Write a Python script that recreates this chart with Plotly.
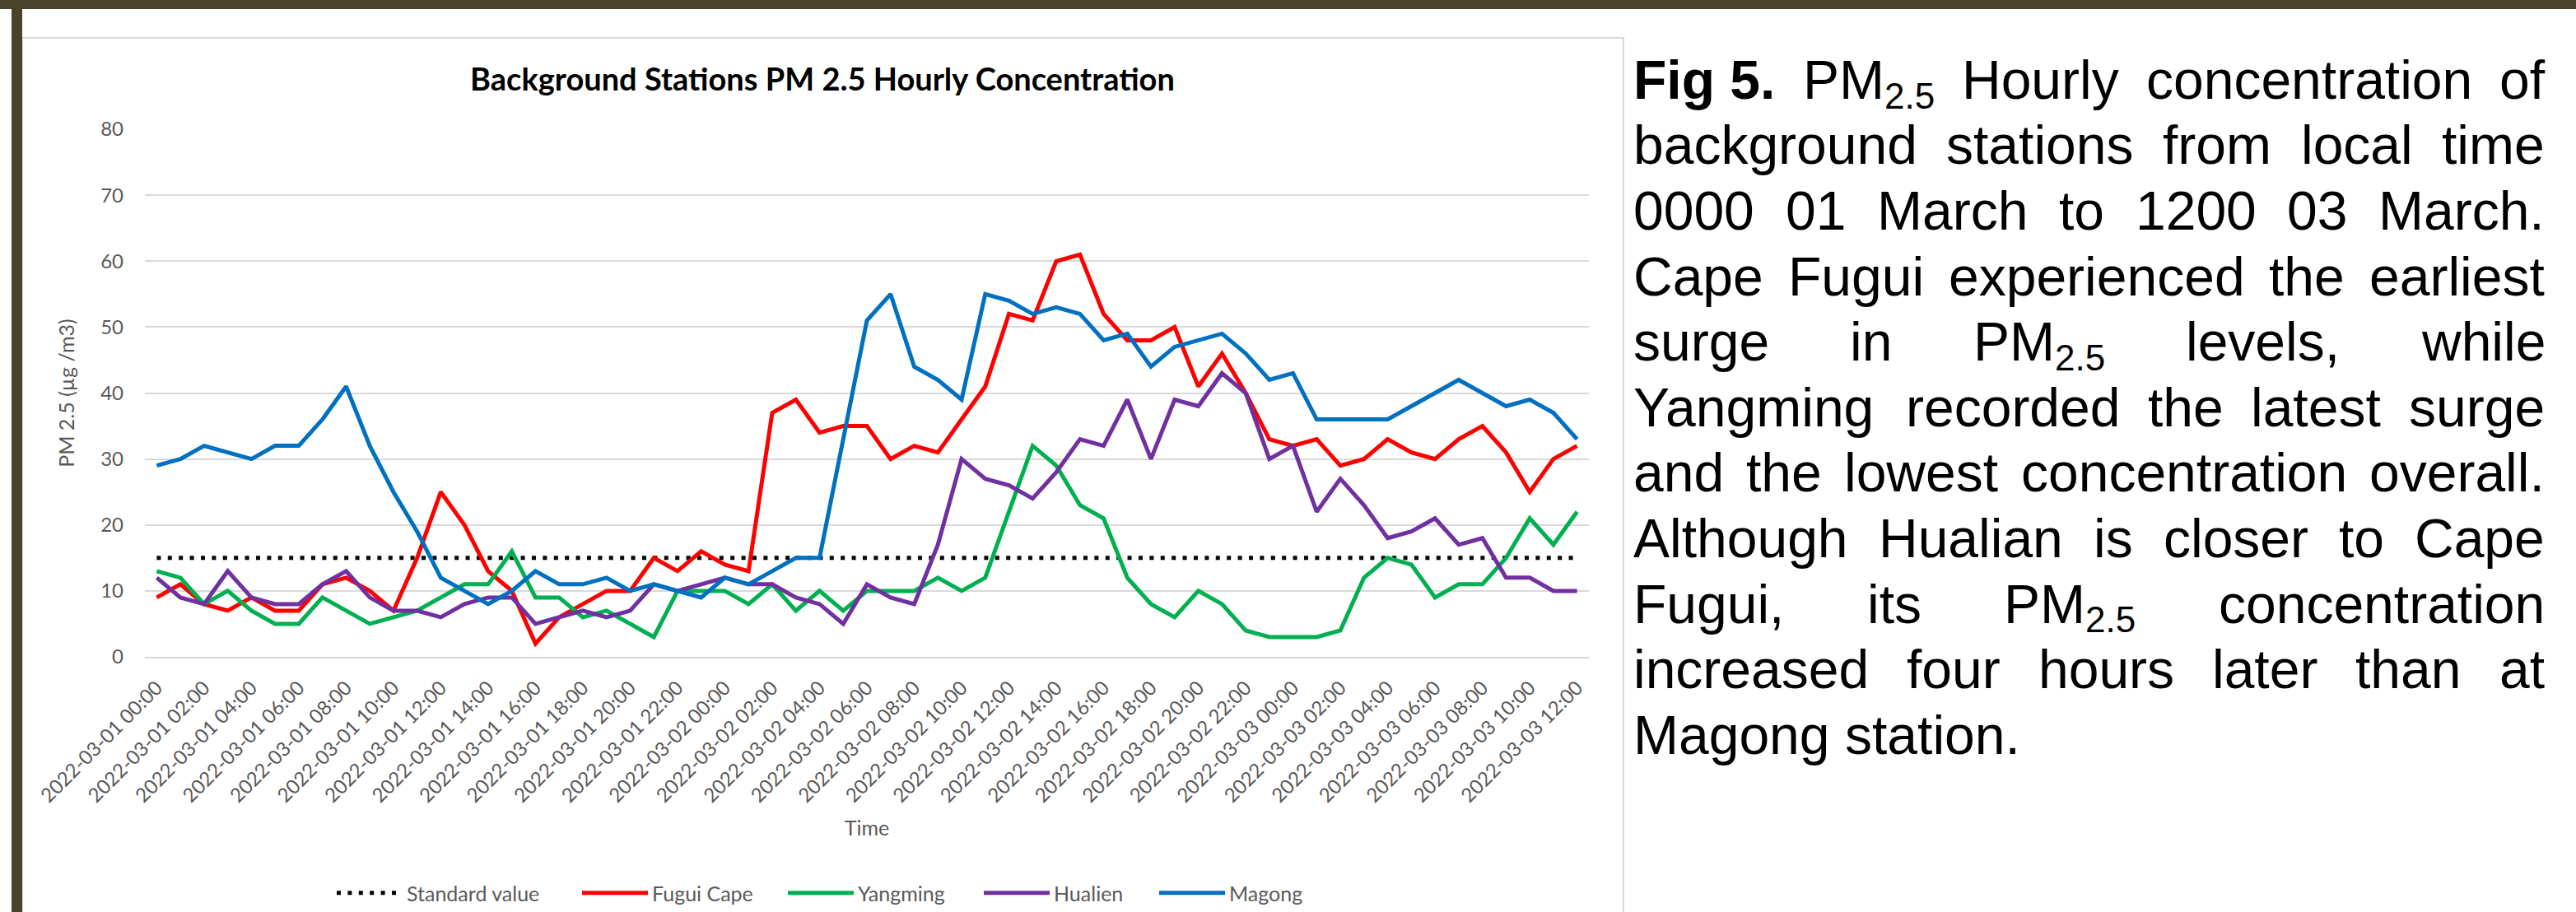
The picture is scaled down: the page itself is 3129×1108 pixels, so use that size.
import plotly.graph_objects as go

# ---------------- data ----------------
times = [f"2022-03-{d:02d} {h:02d}:00" for d in (1, 2, 3) for h in range(24)][:61]
tick_labels = times[::2]

standard_value = 15
standard = [standard_value] * len(times)

fugui = [9, 11, 8, 7, 9, 7, 7, 11, 12, 10, 7, 15, 25, 20, 13, 10, 2, 6, 8, 10,
         10, 15, 13, 16, 14, 13, 37, 39, 34, 35, 35, 30, 32, 31, 36, 41, 52, 51, 60, 61,
         52, 48, 48, 50, 41, 46, 40, 33, 32, 33, 29, 30, 33, 31, 30, 33, 35, 31, 25, 30, 32]
yangming = [13, 12, 8, 10, 7, 5, 5, 9, 7, 5, 6, 7, 9, 11, 11, 16, 9, 9, 6, 7,
            5, 3, 10, 10, 10, 8, 11, 7, 10, 7, 10, 10, 10, 12, 10, 12, 22, 32, 29, 23,
            21, 12, 8, 6, 10, 8, 4, 3, 3, 3, 4, 12, 15, 14, 9, 11, 11, 15, 21, 17, 22]
hualien = [12, 9, 8, 13, 9, 8, 8, 11, 13, 9, 7, 7, 6, 8, 9, 9, 5, 6, 7, 6,
           7, 11, 10, 11, 12, 11, 11, 9, 8, 5, 11, 9, 8, 17, 30, 27, 26, 24, 28, 33,
           32, 39, 30, 39, 38, 43, 40, 30, 32, 22, 27, 23, 18, 19, 21, 17, 18, 12, 12, 10, 10]
magong = [29, 30, 32, 31, 30, 32, 32, 36, 41, 32, 25, 19, 12, 10, 8, 10, 13, 11, 11, 12,
          10, 11, 10, 9, 12, 11, 13, 15, 15, 33, 51, 55, 44, 42, 39, 55, 54, 52, 53, 52,
          48, 49, 44, 47, 48, 49, 46, 42, 43, 36, 36, 36, 36, 38, 40, 42, 40, 38, 39, 37, 33]

series_names = ["Standard value", "Fugui Cape", "Yangming", "Hualien", "Magong"]
series_values = [standard, fugui, yangming, hualien, magong]
series_colors = ["#000000", "#FF0000", "#00B050", "#7030A0", "#0070C0"]

# caption words; ("PM", "2.5") marks a subscripted word
caption_lines = [
    [("Fig 5.", "b"), ("PM", "2.5"), "Hourly", "concentration", "of"],
    ["background", "stations", "from", "local", "time"],
    ["0000", "01", "March", "to", "1200", "03", "March."],
    ["Cape", "Fugui", "experienced", "the", "earliest"],
    ["surge", "in", ("PM", "2.5"), "levels,", "while"],
    ["Yangming", "recorded", "the", "latest", "surge"],
    ["and", "the", "lowest", "concentration", "overall."],
    ["Although", "Hualian", "is", "closer", "to", "Cape"],
    ["Fugui,", "its", ("PM", "2.5"), "concentration"],
    ["increased", "four", "hours", "later", "than", "at"],
    ["Magong", "station."],
]

# ---------------- geometry helpers ----------------
W, H = 3129, 1108
PL, PR, PT, PB = 176, 1930, 157, 798


def fx(x):
    return (x - PL) / (PR - PL)


def fy(y):
    return (PB - y) / (PB - PT)


GRAY = "#595959"
FONT = "Lato, Open Sans, sans-serif"

legend_ids = ["legend", "legend2", "legend3", "legend4", "legend5"]
legend_x = [412, 710, 960, 1198, 1411]   # pixel start of each legend entry

fig = go.Figure()
for name, vals, col, lid in zip(series_names, series_values, series_colors, legend_ids):
    if name == "Standard value":
        line = dict(color=col, width=5, dash="5px,8.4px")
    else:
        line = dict(color=col, width=5)
    fig.add_trace(go.Scatter(x=times, y=vals, name=name, mode="lines", line=line, legend=lid))

# ---------------- caption (justified, Arial metrics) ----------------
REG = {' ': 278, '.': 278, ',': 278}
for c in '0123456789':
    REG[c] = 556
REG.update(dict(zip('abcdefghijklmnopqrstuvwxyz',
                    [556, 556, 500, 556, 556, 278, 556, 556, 222, 222, 500, 222, 833,
                     556, 556, 556, 556, 333, 500, 278, 556, 500, 722, 500, 500, 500])))
REG.update(dict(zip('ABCDEFGHIJKLMNOPQRSTUVWXYZ',
                    [667, 667, 722, 722, 667, 611, 778, 722, 278, 500, 667, 556, 833,
                     722, 778, 667, 778, 722, 667, 611, 722, 667, 944, 667, 667, 611])))
BOLD = {'F': 611, 'i': 278, 'g': 611, ' ': 278, '5': 556, '.': 278}

CAP_SIZE = 66
SUB_SIZE = 44
CAP_LEFT, CAP_RIGHT = 1983, 3090
CAP_FONT = "Liberation Sans, Arial, sans-serif"


def tw(text, table, size):
    return sum(table[c] for c in text) * size / 1000


def word_width(word):
    if isinstance(word, tuple):
        if word[1] == "b":
            return tw(word[0], BOLD, CAP_SIZE)
        return tw(word[0], REG, CAP_SIZE) + tw(word[1], REG, SUB_SIZE)
    return tw(word, REG, CAP_SIZE)


def text_ann(text, x, baseline, size, bold=False):
    ytop = baseline - 0.905 * size - 1
    return dict(text=f"<b>{text}</b>" if bold else text,
                x=fx(x - 1), y=fy(ytop), xref="paper", yref="paper",
                xanchor="left", yanchor="top", showarrow=False,
                font=dict(family=CAP_FONT, size=size, color="#000000"))


annotations = []
for k, words in enumerate(caption_lines):
    baseline = 118.5 + 79.6 * k
    widths = [word_width(w) for w in words]
    if k < len(caption_lines) - 1 and len(words) > 1:
        gap = (CAP_RIGHT - CAP_LEFT - sum(widths)) / (len(words) - 1)
    else:
        gap = REG[' '] * CAP_SIZE / 1000
    x = CAP_LEFT
    for w, wd in zip(words, widths):
        if isinstance(w, tuple) and w[1] == "b":
            annotations.append(text_ann(w[0], x, baseline, CAP_SIZE, bold=True))
        elif isinstance(w, tuple):
            annotations.append(text_ann(w[0], x, baseline, CAP_SIZE))
            annotations.append(text_ann(w[1], x + tw(w[0], REG, CAP_SIZE), baseline + 12, SUB_SIZE))
        else:
            annotations.append(text_ann(w, x, baseline, CAP_SIZE))
        x += wd + gap

# ---------------- decorations ----------------
shapes = [
    # chart area border
    dict(type="rect", xref="paper", yref="paper", x0=fx(27), x1=fx(1972), y0=fy(46), y1=fy(1140),
         line=dict(color="#D9D9D9", width=2), fillcolor="rgba(0,0,0,0)", layer="below"),
    # olive frame
    dict(type="rect", xref="paper", yref="paper", x0=fx(-5), x1=fx(W + 5), y0=fy(-5), y1=fy(11),
         line=dict(width=0), fillcolor="#4A4229", layer="above"),
    dict(type="rect", xref="paper", yref="paper", x0=fx(14), x1=fx(27), y0=fy(-5), y1=fy(H + 5),
         line=dict(width=0), fillcolor="#4A4229", layer="above"),
]

legend_common = dict(orientation="h", yanchor="middle", xanchor="left",
                     xref="paper", yref="paper", itemwidth=80,
                     font=dict(family=FONT, size=25, color=GRAY),
                     bgcolor="rgba(0,0,0,0)", borderwidth=0)
legend_layout = {lid: dict(legend_common, x=fx(lx - 8), y=fy(1085))
                 for lid, lx in zip(legend_ids, legend_x)}

fig.update_layout(
    width=W, height=H,
    margin=dict(l=PL, r=W - PR, t=PT, b=H - PB, autoexpand=False),
    paper_bgcolor="white", plot_bgcolor="white",
    font=dict(family=FONT, size=24, color=GRAY),
    title=dict(text="<b>Background Stations PM 2.5 Hourly Concentration</b>",
               x=999 / W, xref="container", xanchor="center",
               y=1 - 97 / H, yref="container", yanchor="middle",
               font=dict(family=FONT, size=38, color="#000000")),
    showlegend=True,
    shapes=shapes,
    annotations=annotations,
    **legend_layout,
)

fig.update_xaxes(
    type="category", range=[-0.5, len(times) - 0.5],
    tickmode="array", tickvals=tick_labels, ticktext=tick_labels, tickangle=-45,
    ticks="", ticklabelstandoff=12, showgrid=False, zeroline=False,
    showline=True, linecolor="#D9D9D9", linewidth=2,
    tickfont=dict(family=FONT, size=24, color=GRAY),
    title=dict(text="Time", standoff=18, font=dict(family=FONT, size=25, color=GRAY)),
    automargin=False,
)
fig.update_yaxes(
    range=[0, 80], dtick=10, ticks="", ticklabelstandoff=25,
    showgrid=True, gridcolor="#D9D9D9", gridwidth=2, zeroline=False, showline=False,
    tickfont=dict(family=FONT, size=24, color=GRAY),
    title=dict(text="PM 2.5 (µg /m3)", standoff=24, font=dict(family=FONT, size=25, color=GRAY)),
    automargin=False,
)

fig.write_html("out.html")
